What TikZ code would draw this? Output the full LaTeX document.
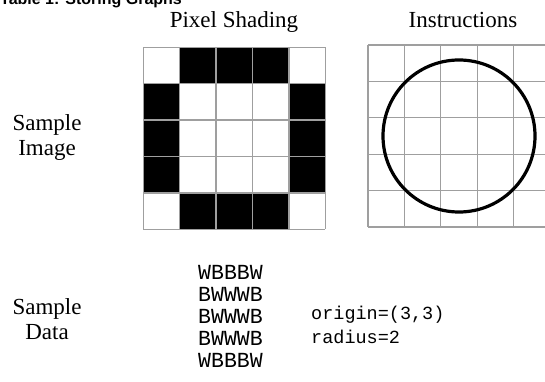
\documentclass[tikz,border=0pt]{standalone}
\usepackage{fontspec}
\setmainfont{Liberation Serif}
\setmonofont{Liberation Mono}
\newfontfamily\titlefont{Liberation Sans}
\usepackage{tikz}
\usetikzlibrary{calc}

\begin{document}
\begin{tikzpicture}[x=1pt, y=-1pt, line cap=butt, line join=miter,
  gridline/.style={draw=gray!75, line width=1.3pt},
  label/.style={font=\fontsize{23}{25}\selectfont, align=center, inner sep=0pt},
  code/.style={font=\ttfamily\fontsize{21.5}{22}\selectfont, align=left, inner sep=0pt}]

  % ===== 枠 =====
  \useasboundingbox (0,0) rectangle (545,382);

  % ===== パラメータ =====
  \coordinate (pix) at (143.3,47.3);   % 左の格子の左上
  \coordinate (ins) at (368,45);       % 右の格子の左上
  \def\cell{36.4}

  % ===== 表題 =====
  \node[anchor=base west, inner sep=0pt, font=\titlefont\bfseries\fontsize{16}{18}\selectfont]
  (title) at (0,4.5) {Table 1: Storing Graphs};

  % ===== 見出し =====
  \node[label, anchor=base] (pixhead) at (234,28) {Pixel Shading};
  \node[label, anchor=base] (inshead) at (463,28) {Instructions};

  % ---- 行ラベル ----
  \node[label] (imglabel) at (47,138) {Sample\\Image};
  \node[label] (datalabel) at (47,319) {Sample\\Data};

  % ===== 画素（黒）=====
  \foreach \c/\r in {1/0,2/0,3/0,0/1,4/1,0/2,4/2,0/3,4/3,1/4,2/4,3/4}
    \fill[black] ($(pix)+(\c*\cell,\r*\cell)$) rectangle ++(\cell,\cell);

  % ---- 左の格子 ----
  \foreach \i in {0,...,5} {
    \draw[gridline] ($(pix)+(\i*\cell,0)$) -- ++(0,5*\cell);
    \draw[gridline] ($(pix)+(0,\i*\cell)$) -- ++(5*\cell,0);
  }

  % ---- 右の格子 ----
  \foreach \i in {0,...,5} {
    \draw[gridline] ($(ins)+(\i*\cell,0)$) -- ++(0,5*\cell);
    \draw[gridline] ($(ins)+(0,\i*\cell)$) -- ++(5*\cell,0);
  }

  % ---- 円 ----
  \draw[line width=3.2pt] ($(ins)+(2.5*\cell,2.5*\cell)$) circle (76);

  % ===== データ =====
  \node[code, anchor=north] (pixdata) at (230.5,265)
  {WBBBW\\BWWWB\\BWWWB\\BWWWB\\WBBBW};

  \node[code, anchor=west, font=\ttfamily\fontsize{18.5}{24}\selectfont]
  (insdata) at (311,325) {origin=(3,3)\\radius=2};

\end{tikzpicture}
\end{document}
